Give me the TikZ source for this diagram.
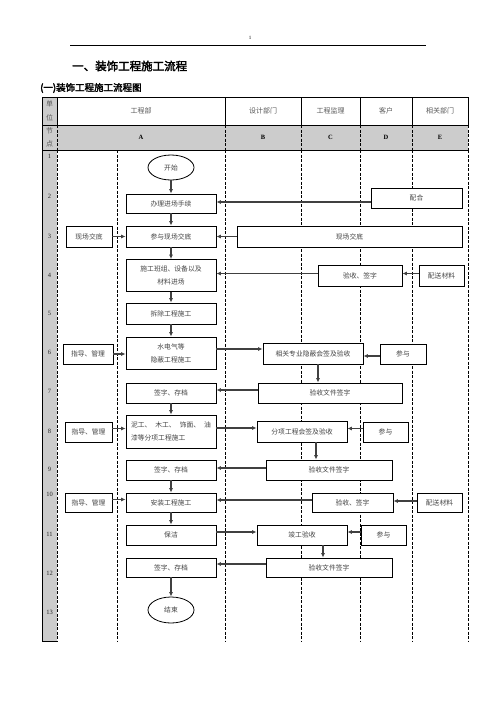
\documentclass[tikz,border=0pt]{standalone}
\usepackage{fontspec}
\setmainfont{Liberation Serif}
\newfontfamily\cjk[AutoFakeBold=2.5]{Noto Sans CJK SC}
\usetikzlibrary{arrows.meta,shapes.geometric}
\definecolor{cellgray}{HTML}{CCCCCC}
\definecolor{txtgray}{HTML}{444444}
\tikzset{
  bx/.style={draw=black, fill=white, line width=0.8pt, inner sep=0pt, text=txtgray,
    font=\cjk\fontsize{6.8}{13}\selectfont, align=center},
  ov/.style={ellipse, draw=black, fill=white, line width=0.8pt, inner sep=0pt, text=txtgray,
    font=\cjk\fontsize{6.8}{13}\selectfont},
  ar/.style={-{Latex[length=4.5pt,width=4pt]}, line width=1.1pt, draw=black!75},
  dl/.style={dash pattern=on 3pt off 1.5pt, line width=0.8pt},
  sl/.style={line width=0.8pt},
  hd/.style={font=\cjk\fontsize{7}{8}\selectfont, text=black!65, inner sep=0pt},
  hl/.style={font=\bfseries\fontsize{6.5}{8}\selectfont, inner sep=0pt},
  rn/.style={font=\fontsize{6.5}{8}\selectfont, inner sep=0pt, text=black!85},
}
\begin{document}
\begin{tikzpicture}[x=1pt,y=-1pt]
\useasboundingbox (0,0) rectangle (496,702);
% page header
\draw[line width=0.6pt] (70,45) -- (426,45);
\node[font=\fontsize{5}{6}\selectfont, inner sep=0pt] (pg) at (250,38) {1};
\node[font=\cjk\bfseries\fontsize{11.5}{13}\selectfont, anchor=west, inner sep=0pt] (title) at (72,66) {一、装饰工程施工流程};
\node[font=\cjk\bfseries\fontsize{9.5}{11}\selectfont, anchor=west, inner sep=0pt] (sub) at (40,88) {(一)装饰工程施工流程图};
% fills
\fill[cellgray] (42,97) rectangle (57,125);
\fill[cellgray] (42,125) rectangle (468,150);
\fill[cellgray] (42,150) rectangle (57,641);
% header lines
\draw[sl] (42,97) -- (468,97);
\draw[sl] (42,125) -- (468,125);
\draw[sl] (42,150) -- (468,150);
\foreach \x in {42,57,225,301,360,412,468} \draw[sl] (\x,97) -- (\x,125);
\draw[sl] (42,125) -- (42,641) -- (57,641);
\foreach \x in {57,225,301,360,412,468} \draw[dl] (\x,125) -- (\x,150);
\foreach \x in {57,117,225,301,360,412,468} \draw[dl] (\x,150) -- (\x,641);
% header texts
\node[hd] (h1) at (49.5,104) {单};
\node[hd] (h2) at (49.5,118) {位};
\node[hd] (h3) at (49.5,131) {节};
\node[hd] (h4) at (49.5,144) {点};
\node[hd] (ha) at (141,111) {工程部};
\node[hd] (hb) at (263,111) {设计部门};
\node[hd] (hc) at (330.5,111) {工程监理};
\node[hd] (hd) at (386,111) {客户};
\node[hd] (he) at (440,111) {相关部门};
\node[hl] (la) at (141,137.5) {A};
\node[hl] (lb) at (263,137.5) {B};
\node[hl] (lc) at (330.5,137.5) {C};
\node[hl] (ld) at (386,137.5) {D};
\node[hl] (le) at (440,137.5) {E};
% row numbers
\foreach \n/\y in {1/156,2/196,3/236.5,4/275,5/313.5,6/352.5,7/391,8/431,9/469,10/494,11/534,12/573,13/612}
  \node[rn] (r\n) at (49.5,\y) {\n};
% nodes
\node[ov, minimum width=46pt, minimum height=25pt] (start) at (171,167.5) {开始};
\node[bx, minimum width=90pt, minimum height=19pt] (banli) at (171,203.5) {办理进场手续};
\node[bx, minimum width=91pt, minimum height=20pt] (peihe) at (416.5,198) {配合};
\node[bx, minimum width=90pt, minimum height=21pt] (canyu) at (171,236.5) {参与现场交底};
\node[bx, minimum width=46pt, minimum height=21pt] (xcL) at (89,236.5) {现场交底};
\node[bx, minimum width=225pt, minimum height=21pt] (xcR) at (349.5,236.5) {现场交底};
\node[bx, minimum width=90pt, minimum height=32pt] (shigong) at (171,275.5) {施工班组、设备以及\\材料进场};
\node[bx, minimum width=84pt, minimum height=21pt] (ys4) at (360,275.5) {验收、签字};
\node[bx, minimum width=45pt, minimum height=21pt] (ps4) at (441.5,275.5) {配送材料};
\node[bx, minimum width=90pt, minimum height=21pt] (chaichu) at (171,313.5) {拆除工程施工};
\node[bx, minimum width=90pt, minimum height=32pt] (shuidian) at (171,353) {水电气等\\隐蔽工程施工};
\node[bx, minimum width=50pt, minimum height=20pt] (zd6) at (88,354) {指导、管理};
\node[bx, minimum width=100pt, minimum height=21pt] (xg6) at (313,353.5) {相关专业隐蔽会签及验收};
\node[bx, minimum width=46pt, minimum height=20pt] (cy6) at (403,354) {参与};
\node[bx, minimum width=90pt, minimum height=20pt] (qz7) at (171,393) {签字、存档};
\node[bx, minimum width=144pt, minimum height=20pt] (wj7) at (330,393) {验收文件签字};
\node[bx, minimum width=90pt, minimum height=33pt, text width=80pt, align=left] (niwa) at (171,431.5) {\makebox[80pt][s]{泥工、\hfil 木工、\hfil 饰面、\hfil 油}\\漆等分项工程施工};
\node[bx, minimum width=47pt, minimum height=20pt] (zd8) at (88.5,432) {指导、管理};
\node[bx, minimum width=90pt, minimum height=21pt] (fx8) at (302,431.5) {分项工程会签及验收};
\node[bx, minimum width=45pt, minimum height=20pt] (cy8) at (385.5,432) {参与};
\node[bx, minimum width=90pt, minimum height=20pt] (qz9) at (171,470) {签字、存档};
\node[bx, minimum width=126pt, minimum height=20pt] (wj9) at (329,470) {验收文件签字};
\node[bx, minimum width=90pt, minimum height=19pt] (anzhuang) at (171,502.5) {安装工程施工};
\node[bx, minimum width=47pt, minimum height=19pt] (zd10) at (88.5,502.5) {指导、管理};
\node[bx, minimum width=81pt, minimum height=19pt] (ys10) at (352.5,502.5) {验收、签字};
\node[bx, minimum width=45pt, minimum height=19pt] (ps10) at (439.5,502.5) {配送材料};
\node[bx, minimum width=90pt, minimum height=20pt] (baojie) at (171,535) {保洁};
\node[bx, minimum width=90pt, minimum height=20pt] (jg11) at (302,535) {竣工验收};
\node[bx, minimum width=45pt, minimum height=20pt] (cy11) at (383.5,535) {参与};
\node[bx, minimum width=90pt, minimum height=19pt] (qz12) at (171,567.5) {签字、存档};
\node[bx, minimum width=126pt, minimum height=19pt] (wj12) at (329,567.5) {验收文件签字};
\node[ov, minimum width=46pt, minimum height=26pt] (end) at (171,610) {结束};
% connectors
\draw[ar] (start) -- (banli);
\draw[ar] (banli) -- (canyu);
\draw[ar] (canyu) -- (shigong);
\draw[ar] (shigong) -- (chaichu);
\draw[ar] (chaichu) -- (shuidian);
\draw[ar] (qz7) -- (niwa);
\draw[ar] (qz9) -- (anzhuang);
\draw[ar] (anzhuang) -- (baojie);
\draw[ar] (qz12) -- (end);
\draw[ar] ([yshift=1.5pt]peihe.west |- banli) -- ([yshift=1.5pt]banli.east);
\draw[ar] (xcL) -- (canyu);
\draw[ar] (xcR) -- (canyu);
\draw[ar] ([yshift=2pt]ps4.west) -- ([yshift=2pt]ys4.east);
\draw[ar] ([yshift=2pt]ys4.west) -- ([yshift=2pt]ys4.west -| shigong.east);
\draw[ar] (zd6.east) -- (zd6.east -| shuidian.west);
\draw[ar] ([yshift=4pt]shuidian.east) -- ([yshift=4pt]shuidian.east -| xg6.west);
\draw[ar] ([yshift=-2pt]cy6.west) -- ([yshift=-2pt]cy6.west -| xg6.east);
\draw[ar] ([xshift=5pt]xg6.south) -- ([xshift=5pt]xg6.south |- wj7.north);
\draw[ar] ([yshift=3pt]wj7.west) -- ([yshift=3pt]wj7.west -| qz7.east);
\draw[ar] ([yshift=3.5pt]zd8.east) -- ([yshift=3.5pt]zd8.east -| niwa.west);
\draw[ar] ([yshift=3.5pt]niwa.east) -- ([yshift=3.5pt]niwa.east -| fx8.west);
\draw[ar] ([yshift=3.5pt]cy8.west) -- ([yshift=3.5pt]cy8.west -| fx8.east);
\draw[ar] ([xshift=14pt]fx8.south) -- ([xshift=14pt]fx8.south |- wj9.north);
\draw[ar] ([yshift=2pt]wj9.west) -- ([yshift=2pt]wj9.west -| qz9.east);
\draw[ar] ([yshift=3pt]zd10.east) -- ([yshift=3pt]zd10.east -| anzhuang.west);
\draw[ar] ([yshift=2.5pt]ys10.west) -- ([yshift=2.5pt]ys10.west -| anzhuang.east);
\draw[ar] ([yshift=1.5pt]ps10.west) -- ([yshift=1.5pt]ps10.west -| ys10.east);
\draw[ar] ([yshift=3pt]baojie.east) -- ([yshift=3pt]baojie.east -| jg11.west);
\draw[ar] ([yshift=3pt]cy11.west) -- ([yshift=3pt]cy11.west -| jg11.east);
\draw[ar] ([xshift=21pt]jg11.south) -- ([xshift=21pt]jg11.south |- wj12.north);
\draw[ar] ([yshift=3.5pt]wj12.west) -- ([yshift=3.5pt]wj12.west -| qz12.east);
\end{tikzpicture}
\end{document}
